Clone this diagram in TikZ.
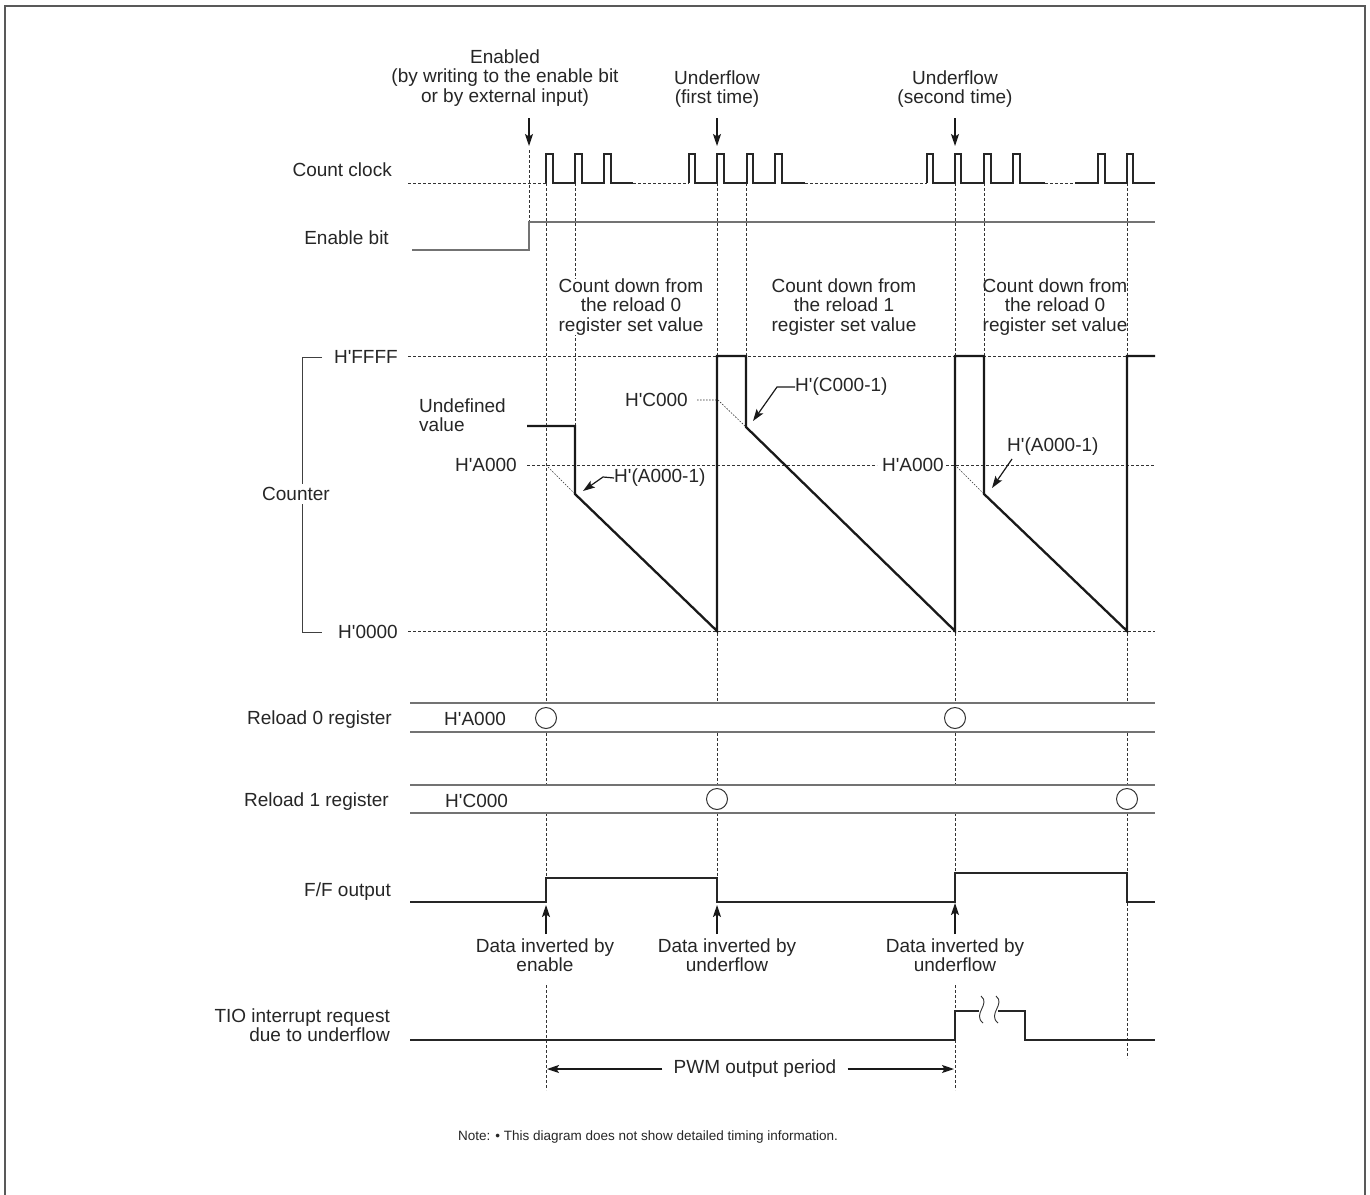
\documentclass[tikz,border=0pt]{standalone}
\usepackage{fontspec}
\setmainfont{Liberation Sans}
\usetikzlibrary{arrows.meta}
\newcommand{\hq}{H\textquotesingle}
\begin{document}
\begin{tikzpicture}[x=1pt,y=-1pt,
  font=\fontsize{19}{19.3}\selectfont,
  txt/.style={inner sep=0pt, align=center, text=black!85},
  dsh/.style={line width=0.8pt, dash pattern=on 3pt off 2pt, black!80},
  dotl/.style={line width=0.6pt, dash pattern=on 1.5pt off 1.5pt, black!80},
  wave/.style={line width=1.2pt, black!85},
  gline/.style={line width=1.4pt, black!55},
  cnt/.style={line width=2.3pt, black!90, line join=miter},
  arr/.style={-{Stealth[length=12pt,width=8pt,inset=2.5pt]}, line width=1.2pt, black!90},
  circ/.style={circle, draw=black!80, line width=1pt, fill=white, minimum size=21pt, inner sep=0pt}
]
\useasboundingbox (0,0) rectangle (1370,1194);
\fill[white] (0,0) rectangle (1370,1194);
% frame
\draw[line width=1.6pt, black!65] (5,1196) -- (5,6) -- (1365,6) -- (1365,1196);

% ---------- top labels ----------
\node[txt] (en) at (505,78) {Enabled\\(by writing to the enable bit\\or by external input)};
\node[txt] (uf1) at (717,89) {Underflow\\(first time)};
\node[txt] (uf2) at (955,89) {Underflow\\(second time)};
\coordinate (a1s) at (529,118); \coordinate (a1e) at (529,146);
\coordinate (a2s) at (717,118); \coordinate (a2e) at (717,146);
\coordinate (a3s) at (955,118); \coordinate (a3e) at (955,146);
\draw[arr] (a1s) -- (a1e);
\draw[arr] (a2s) -- (a2e);
\draw[arr] (a3s) -- (a3e);

% ---------- left labels ----------
\node[txt, anchor=east] (lcc) at (392,170) {Count clock};
\node[txt, anchor=east] (leb) at (389,238) {Enable bit};
\node[txt, anchor=east] (l00) at (398,632) {\hq0000};
\node[txt, anchor=east] (lr0) at (392,720) {Reload 0 register};
\node[txt, anchor=east] (lr1) at (389,802) {Reload 1 register};
\node[txt, anchor=east] (lfo) at (391,892) {F/F output};
\node[txt, anchor=east, align=right] (lti) at (390,1025) {TIO interrupt request\\due to underflow};

% ---------- vertical dashed guide lines ----------
\draw[dsh] (529,150) -- (529,222);
\draw[dsh] (546,183) -- (546,878);
\draw[dsh] (546,985) -- (546,1090);
\draw[dsh] (575,183) -- (575,427);
\draw[dsh] (717,183) -- (717,878);
\draw[dsh] (746,183) -- (746,427);
\draw[dsh] (955,183) -- (955,873);
\draw[dsh] (955,985) -- (955,1090);
\draw[dsh] (984,183) -- (984,356);
\draw[dsh] (1127,183) -- (1127,1058);

% ---------- count clock ----------
\draw[dsh] (408,183) -- (546,183);
\draw[wave] (546,183) -- (546,154) -- (553,154) -- (553,183) -- (575,183) -- (575,154) -- (582,154) -- (582,183)
  -- (604,183) -- (604,154) -- (611,154) -- (611,183) -- (633,183);
\draw[dsh] (633,183) -- (689,183);
\draw[wave] (689,183) -- (689,154) -- (695,154) -- (695,183) -- (717,183) -- (717,154) -- (724,154) -- (724,183)
  -- (747,183) -- (747,154) -- (753,154) -- (753,183) -- (775,183) -- (775,154) -- (782,154) -- (782,183) -- (805,183);
\draw[dsh] (805,183) -- (927,183);
\draw[wave] (927,183) -- (927,154) -- (933,154) -- (933,183) -- (955,183) -- (955,154) -- (961,154) -- (961,183)
  -- (984,183) -- (984,154) -- (991,154) -- (991,183) -- (1013,183) -- (1013,154) -- (1020,154) -- (1020,183) -- (1045,183);
\draw[dsh] (1045,183) -- (1075,183);
\draw[wave] (1075,183) -- (1098,183) -- (1098,154) -- (1105,154) -- (1105,183) -- (1127,183) -- (1127,154) -- (1133,154) -- (1133,183) -- (1155,183);

% ---------- enable bit ----------
\draw[gline] (412,250) -- (529,250) -- (529,222) -- (1155,222);

% ---------- count down labels ----------
\node[txt, fill=white] (cd1) at (631,307) {Count down from\\the reload 0\\register set value};
\node[txt] (cd2) at (844,307) {Count down from\\the reload 1\\register set value};
\node[txt] (cd3) at (1055,307) {Count down from\\the reload 0\\register set value};

% ---------- counter ----------
\draw[line width=1pt, black!75] (322,357) -- (302,357) -- (302,632) -- (322,632);
\node[txt, fill=white, inner ysep=3pt] (lctr) at (296,494) {Counter};
\node[txt, anchor=east] (lfff) at (398,357) {\hq FFFF};
\draw[dsh] (408,356) -- (1155,356);
\draw[dsh] (408,631) -- (1155,631);
\node[txt, anchor=east] (la0a) at (517,465) {\hq A000};
\draw[dsh] (527,465) -- (877,465);
\node[txt, anchor=east] (la0b) at (944,465) {\hq A000};
\draw[dsh] (946,465) -- (1155,465);
\node[txt, anchor=east] (lc0) at (688,400) {\hq C000};
\draw[dotl] (697,400) -- (718,400) -- (746,427);
\draw[dotl] (546,465) -- (575,494);
\draw[dotl] (955,465) -- (984,494);
\node[txt, anchor=west, align=left] (lud) at (419,415) {Undefined\\value};
\draw[cnt] (527,426) -- (575,426) -- (575,494) -- (717,631) -- (717,356) -- (746,356) -- (746,427)
  -- (955,631) -- (955,356) -- (984,356) -- (984,494) -- (1127,631) -- (1127,356) -- (1155,356);

% annotation arrows
\node[txt, anchor=west] (am1) at (614,478) {\hq(A000-1)};
\node[txt, anchor=west] (cm1) at (795,387) {\hq(C000-1)};
\node[txt, anchor=west] (am2) at (1007,447) {\hq(A000-1)};
\coordinate (p1) at (603,477); \coordinate (t1) at (583,491);
\coordinate (p2) at (777,387); \coordinate (t2) at (753,421);
\coordinate (s3) at (1012,459); \coordinate (t3) at (992,488);
\draw[arr] (am1.west) -- (p1) -- (t1);
\draw[arr] (cm1.west) -- (p2) -- (t2);
\draw[arr] (s3) -- (t3);

% ---------- reload registers ----------
\fill[white] (410,703) rectangle (1155,732);
\fill[white] (410,785) rectangle (1155,813);
\draw[gline] (410,703) -- (1155,703);
\draw[gline] (410,732) -- (1155,732);
\draw[gline] (410,785) -- (1155,785);
\draw[gline] (410,813) -- (1155,813);
\node[txt, anchor=west] (r0v) at (444,719) {\hq A000};
\node[txt, anchor=west] (r1v) at (445,801) {\hq C000};
\node[circ] (c1) at (546,718) {};
\node[circ] (c2) at (955,718) {};
\node[circ] (c3) at (717,799) {};
\node[circ] (c4) at (1127,799) {};

% ---------- F/F output ----------
\draw[wave] (410,902) -- (546,902) -- (546,878) -- (717,878) -- (717,902) -- (955,902) -- (955,873) -- (1127,873) -- (1127,902) -- (1155,902);
\node[txt] (di1) at (545,955) {Data inverted by\\enable};
\node[txt] (di2) at (727,955) {Data inverted by\\underflow};
\node[txt] (di3) at (955,955) {Data inverted by\\underflow};
\coordinate (u1s) at (546,934); \coordinate (u1e) at (546,905);
\coordinate (u2s) at (717,934); \coordinate (u2e) at (717,905);
\coordinate (u3s) at (955,934); \coordinate (u3e) at (955,903);
\draw[arr] (u1s) -- (u1e);
\draw[arr] (u2s) -- (u2e);
\draw[arr] (u3s) -- (u3e);

% ---------- TIO interrupt ----------
\draw[wave] (410,1040) -- (955,1040) -- (955,1011) -- (979,1011);
\draw[wave] (998,1011) -- (1025,1011) -- (1025,1040) -- (1155,1040);
\draw[line width=0.9pt, black!80] (981,996) .. controls (991,1004) and (972,1014) .. (983,1023);
\draw[line width=0.9pt, black!80] (996,996) .. controls (1006,1004) and (987,1014) .. (998,1023);

% ---------- PWM period ----------
\node[txt] (pwm) at (755,1069) {PWM output period};
\draw[arr] (pwm.west) ++(-11,0) coordinate (pl) -- (547,1069);
\draw[arr] (pwm.east) ++(11,0) coordinate (pr) -- (954,1069);

% ---------- note ----------
\node[txt, anchor=west] (note) at (458,1137) {\fontsize{13.5}{16}\selectfont Note: \textbullet\ This diagram does not show detailed timing information.};
\end{tikzpicture}
\end{document}
